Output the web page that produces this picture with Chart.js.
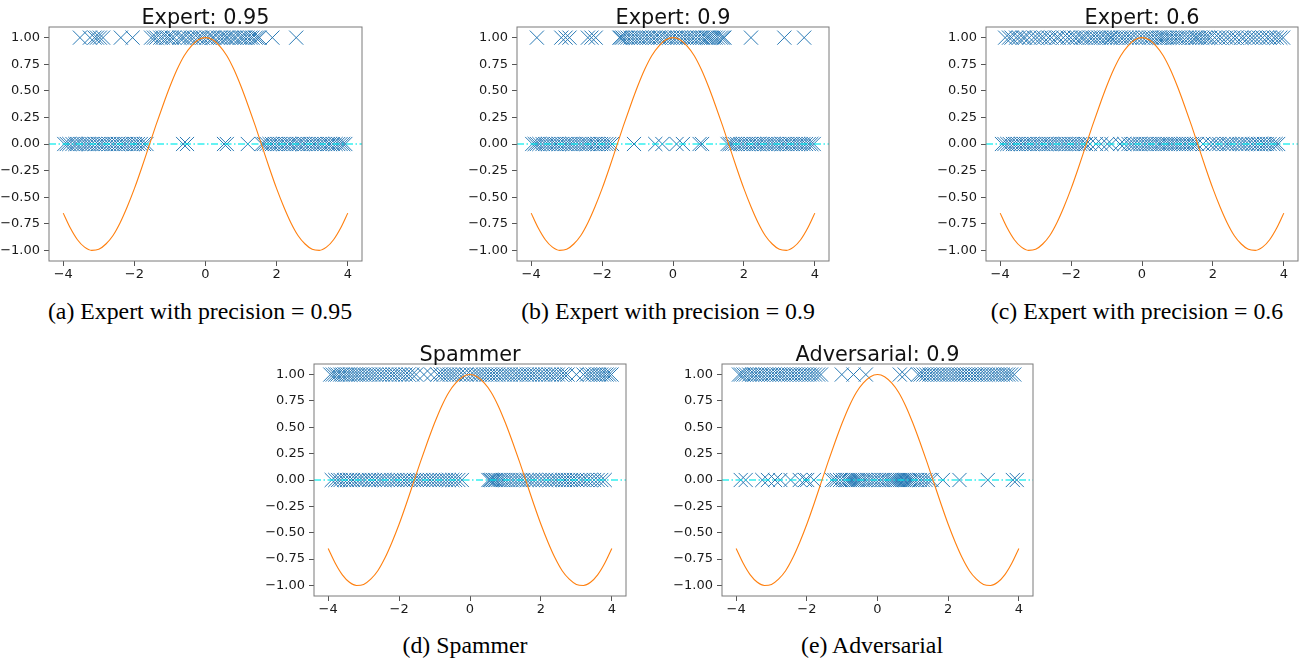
<!DOCTYPE html>
<html>
<head>
<meta charset="utf-8">
<script src="https://cdn.jsdelivr.net/npm/chart.js@4.4.1/dist/chart.umd.min.js"></script>
<style>
  body { margin: 0; width: 1307px; height: 660px; background: #fff; position: relative; overflow: hidden; }
  .panel { position: absolute; }
  .cap { position: absolute; font-family: "Liberation Serif", "Times New Roman", serif; font-size: 23.8px;
         line-height: 24px; color: #000; white-space: nowrap; transform: translateX(-50%); }
</style>
</head>
<body>
<script>
// axis ticks / limits
const xTicks = [-4, -2, 0, 2, 4];
const yTicks = [-1, -0.75, -0.5, -0.25, 0, 0.25, 0.5, 0.75, 1];
const xLimits = [-4.4, 4.4];
const yLimits = [-1.1, 1.1];
const refLineY = 0;

// orange curve
const curveX = [-4, -3.8, -3.6, -3.4, -3.2, -3, -2.8, -2.6, -2.4, -2.2, -2, -1.8, -1.6, -1.4, -1.2, -1, -0.8, -0.6, -0.4, -0.2,
  0, 0.2, 0.4, 0.6, 0.8, 1, 1.2, 1.4, 1.6, 1.8, 2, 2.2, 2.4, 2.6, 2.8, 3, 3.2, 3.4, 3.6, 3.8, 4];
const curveY = [-0.65, -0.79, -0.9, -0.97, -1.0, -0.99, -0.94, -0.86, -0.74, -0.59, -0.42, -0.23, -0.03, 0.17, 0.36, 0.54, 0.7, 0.83, 0.92, 0.98,
  1.0, 0.98, 0.92, 0.83, 0.7, 0.54, 0.36, 0.17, -0.03, -0.23, -0.42, -0.59, -0.74, -0.86, -0.94, -0.99, -1.0, -0.97, -0.9, -0.79, -0.65];

// x positions of the crosses labelled 1 / 0
const expert95Ones = [-3.53, -3.25, -3.12, -3.05, -2.97, -2.88, -2.38, -2.05,
  -1.53, -1.45, -1.38, -1.27, -1.2, -1.1, -1.04, -0.95, -0.88, -0.74, -0.66, -0.6, -0.49, -0.41, -0.33, -0.22, -0.15, -0.08,
  0.03, 0.1, 0.19, 0.24, 0.35, 0.42, 0.5, 0.58, 0.63, 0.72, 0.8, 0.86, 0.97, 1.03, 1.1, 1.18, 1.26, 1.32, 1.41, 1.47, 1.52,
  1.88, 2.55];
const expert95Zeros = [-3.97, -3.9, -3.83, -3.74, -3.66, -3.6, -3.51, -3.43, -3.35, -3.28, -3.2, -3.11, -3.02, -2.95, -2.87,
  -2.8, -2.71, -2.62, -2.55, -2.46, -2.38, -2.3, -2.23, -2.14, -2.05, -1.98, -1.9, -1.82, -1.73, -1.66,
  -0.63, -0.52, 0.52, 0.6, 1.19,
  1.58, 1.64, 1.72, 1.8, 1.87, 1.95, 2.03, 2.1, 2.19, 2.26, 2.35, 2.41, 2.5, 2.58, 2.64, 2.73, 2.8, 2.89, 2.97, 3.05,
  3.12, 3.2, 3.27, 3.35, 3.44, 3.5, 3.58, 3.66, 3.73, 3.8, 3.87, 3.93];

const expert90Ones = [-3.84, -3.15, -3.03, -2.92, -2.4, -2.3, -2.18,
  -1.51, -1.47, -1.42, -1.35, -1.28, -1.2, -1.13, -1.05, -0.97, -0.9, -0.81, -0.73, -0.66, -0.57, -0.5, -0.41, -0.35, -0.25,
  -0.17, -0.1, -0.02, 0.07, 0.13, 0.22, 0.3, 0.38, 0.45, 0.53, 0.6, 0.69, 0.77, 0.84, 0.92, 0.97, 1.02, 1.08, 1.14, 1.2,
  1.27, 1.35, 1.41, 1.45,
  2.2, 3.14, 3.7];
const expert90Zeros = [-3.97, -3.9, -3.84, -3.77, -3.68, -3.6, -3.53, -3.45, -3.37, -3.3, -3.22, -3.14, -3.05, -2.98, -2.9,
  -2.83, -2.75, -2.66, -2.58, -2.5, -2.43, -2.36, -2.27, -2.2, -2.12, -2.03, -1.96, -1.88, -1.8, -1.72,
  -1.1, -0.5, -0.3, 0.1, 0.28, 0.75, 0.82,
  1.54, 1.6, 1.66, 1.74, 1.81, 1.9, 1.97, 2.05, 2.12, 2.2, 2.29, 2.36, 2.43, 2.52, 2.6, 2.67, 2.75, 2.83, 2.9, 2.98,
  3.07, 3.14, 3.21, 3.3, 3.37, 3.45, 3.53, 3.6, 3.68, 3.75, 3.83, 3.9, 3.97];

const expert60Ones = [-3.86, -3.75, -3.68, -3.55, -3.47, -3.36, -3.3, -3.18, -3.05, -2.96, -2.85, -2.77, -2.64, -2.55,
  -2.42, -2.35, -2.22, -2.1, -2.01, -1.9, -1.83, -1.72, -1.66, -1.58, -1.47, -1.4, -1.31, -1.22, -1.15, -1.05, -0.98,
  -0.9, -0.86, -0.78, -0.7, -0.6, -0.53, -0.44, -0.35, -0.28, -0.17, -0.08, 0.02, 0.11, 0.2, 0.27, 0.36, 0.44, 0.5,
  0.57, 0.63, 0.7, 0.77, 0.85, 0.92, 1.0, 1.07, 1.15, 1.25, 1.33, 1.42, 1.5, 1.55, 1.62, 1.7, 1.78, 1.86, 1.93, 2.05,
  2.16, 2.25, 2.37, 2.46, 2.58, 2.67, 2.8, 2.88, 3.0, 3.1, 3.19, 3.3, 3.4, 3.52, 3.6, 3.72, 3.8, 3.9, 3.98];
const expert60Zeros = [-3.95, -3.88, -3.8, -3.73, -3.64, -3.57, -3.5, -3.41, -3.33, -3.26, -3.18, -3.1, -3.03, -2.94,
  -2.86, -2.79, -2.7, -2.62, -2.55, -2.47, -2.38, -2.3, -2.22, -2.15, -2.06, -1.98, -1.9, -1.82, -1.74, -1.65, -1.58,
  -1.47, -1.3, -1.15, -0.98, -0.86, -0.62, -0.5, -0.38, -0.3, -0.22, -0.13, -0.05, 0.04, 0.12, 0.2, 0.27, 0.35, 0.44,
  0.51, 0.58, 0.66, 0.73, 0.8, 0.88, 0.95, 1.03, 1.1, 1.18, 1.25, 1.33, 1.41, 1.48, 1.55, 1.72, 1.9, 2.0, 2.1, 2.18,
  2.3, 2.4, 2.47, 2.55, 2.66, 2.75, 2.83, 2.92, 3.0, 3.1, 3.18, 3.27, 3.35, 3.44, 3.52, 3.6, 3.7, 3.77, 3.84];

const spammerOnes = [-3.94, -3.87, -3.8, -3.74, -3.66, -3.6, -3.52, -3.45, -3.38, -3.3, -3.22, -3.15, -3.07, -2.98, -2.9,
  -2.82, -2.73, -2.65, -2.55, -2.46, -2.37, -2.27, -2.18, -2.1, -2.0, -1.92, -1.82, -1.73, -1.63, -1.52, -1.3, -1.1,
  -0.92, -0.83, -0.74, -0.65, -0.57, -0.48, -0.4, -0.3, -0.2, -0.1, 0.02, 0.11, 0.2, 0.28, 0.37, 0.46, 0.55, 0.63,
  0.72, 0.8, 0.9, 0.98, 1.07, 1.15, 1.25, 1.33, 1.42, 1.5, 1.6, 1.68, 1.77, 1.85, 1.95, 2.04, 2.12, 2.22, 2.3, 2.4,
  2.48, 2.58, 2.67, 2.75, 3.0, 3.2, 3.3, 3.38, 3.46, 3.55, 3.63, 3.7, 3.78, 3.85, 3.92, 3.99];
const spammerZeros = [-3.9, -3.8, -3.72, -3.65, -3.55, -3.47, -3.38, -3.3, -3.2, -3.12, -3.03, -2.95, -2.85, -2.77, -2.68,
  -2.58, -2.5, -2.41, -2.32, -2.22, -2.13, -2.05, -1.95, -1.86, -1.77, -1.68, -1.58, -1.5, -1.4, -1.32, -1.22, -1.13,
  -1.04, -0.95, -0.86, -0.77, -0.68, -0.6, -0.5, -0.42, -0.33, -0.23,
  0.52, 0.56, 0.6, 0.65, 0.7, 0.74, 0.8, 0.86, 0.93, 1.0, 1.08, 1.17, 1.25, 1.34, 1.42, 1.5, 1.6, 1.68, 1.77, 1.85,
  1.96, 2.05, 2.15, 2.25, 2.33, 2.42, 2.5, 2.6, 2.68, 2.76, 2.85, 2.93, 3.02, 3.12, 3.2, 3.3, 3.4, 3.5, 3.6, 3.7, 3.8];

const adversarialOnes = [-3.92, -3.86, -3.79, -3.72, -3.63, -3.55, -3.48, -3.4, -3.32, -3.25, -3.16, -3.08, -3.0, -2.92,
  -2.83, -2.76, -2.68, -2.6, -2.51, -2.43, -2.35, -2.27, -2.18, -2.1, -2.02, -1.93, -1.85, -1.77, -1.68, -1.6,
  -1.01, -0.68, -0.33, 0.63, 0.77,
  1.15, 1.22, 1.3, 1.38, 1.47, 1.55, 1.63, 1.72, 1.8, 1.88, 1.97, 2.05, 2.14, 2.22, 2.3, 2.38, 2.46, 2.55, 2.63, 2.72,
  2.8, 2.88, 2.96, 3.05, 3.13, 3.22, 3.3, 3.38, 3.46, 3.55, 3.63, 3.7, 3.78, 3.87];
const adversarialZeros = [-3.87, -3.73, -3.26, -3.1, -2.9, -2.75, -2.46, -2.2, -2.05, -1.99, -1.8,
  -1.29, -1.22, -1.15, -1.06, -0.98, -0.9, -0.84, -0.78, -0.72, -0.66, -0.6, -0.55, -0.49, -0.42, -0.35, -0.28, -0.2,
  -0.12, -0.05, 0.04, 0.12, 0.2, 0.27, 0.34, 0.4, 0.46, 0.52, 0.58, 0.64, 0.7, 0.75, 0.8, 0.86, 0.92, 0.98, 1.05,
  1.12, 1.2, 1.28, 1.36, 1.45, 1.53,
  1.85, 2.32, 3.12, 3.83, 3.94];

const titles = ['Expert: 0.95', 'Expert: 0.9', 'Expert: 0.6', 'Spammer', 'Adversarial: 0.9'];
const captions = ['(a) Expert with precision = 0.95', '(b) Expert with precision = 0.9',
  '(c) Expert with precision = 0.6', '(d) Spammer', '(e) Adversarial'];
const onesSets = [expert95Ones, expert90Ones, expert60Ones, spammerOnes, adversarialOnes];
const zerosSets = [expert95Zeros, expert90Zeros, expert60Zeros, spammerZeros, adversarialZeros];

// page layout: plot-area boxes and caption anchors
const boxes = [
  { l: 49, r: 362, t: 27, b: 261, capX: 200, capY: 299 },
  { l: 517, r: 829, t: 27, b: 261, capX: 668, capY: 299 },
  { l: 986, r: 1298, t: 27, b: 261, capX: 1137, capY: 299 },
  { l: 314, r: 626, t: 364, b: 596, capX: 465, capY: 633 },
  { l: 722, r: 1033, t: 364, b: 596, capX: 872, capY: 633 }
];

const AX_W = 55, TOP = 30, RIGHT = 12, X_H = 26, BOTTOM = 4;

// frame around the plot area + title above it
const framePlugin = {
  id: 'frame',
  afterDraw(chart, args, opts) {
    const { ctx, chartArea: a } = chart;
    ctx.save();
    ctx.strokeStyle = '#7a7a7a';
    ctx.lineWidth = 1;
    ctx.strokeRect(a.left, a.top, a.right - a.left, a.bottom - a.top);
    ctx.fillStyle = '#111';
    ctx.font = '20.8px "DejaVu Sans"';
    ctx.textAlign = 'center';
    ctx.textBaseline = 'alphabetic';
    ctx.fillText(opts.text, (a.left + a.right) / 2, a.top - 3);
    ctx.restore();
  }
};

const minus = v => (v < 0 ? '\u2212' : '') + Math.abs(v);

boxes.forEach((box, i) => {
  const w = box.r - box.l + AX_W + RIGHT;
  const h = box.b - box.t + TOP + X_H + BOTTOM;
  const div = document.createElement('div');
  div.className = 'panel';
  div.style.left = (box.l - AX_W) + 'px';
  div.style.top = (box.t - TOP) + 'px';
  const canvas = document.createElement('canvas');
  canvas.width = w;
  canvas.height = h;
  div.appendChild(canvas);
  document.body.appendChild(div);

  const cap = document.createElement('div');
  cap.className = 'cap';
  cap.style.left = box.capX + 'px';
  cap.style.top = box.capY + 'px';
  cap.textContent = captions[i];
  document.body.appendChild(cap);

  const tickFont = { family: 'DejaVu Sans', size: 13 };
  new Chart(canvas.getContext('2d'), {
    type: 'scatter',
    data: {
      datasets: [
        {
          type: 'line',
          data: curveX.map((x, k) => ({ x, y: curveY[k] })),
          borderColor: '#ff7f0e',
          borderWidth: 1.1,
          pointRadius: 0,
          cubicInterpolationMode: 'monotone',
          order: 0
        },
        {
          type: 'line',
          data: [{ x: xLimits[0], y: refLineY }, { x: xLimits[1], y: refLineY }],
          borderColor: 'rgba(0, 235, 235, 0.6)',
          borderWidth: 2,
          borderDash: [7, 2.5, 1.5, 2.5],
          pointRadius: 0,
          order: 1
        },
        {
          data: onesSets[i].map(x => ({ x, y: 1 })).concat(zerosSets[i].map(x => ({ x, y: 0 }))),
          pointStyle: 'crossRot',
          pointRadius: 10,
          borderColor: '#2a7ab5',
          borderWidth: 1,
          order: 2
        }
      ]
    },
    options: {
      responsive: false,
      animation: false,
      events: [],
      layout: { padding: { top: TOP, right: RIGHT, bottom: BOTTOM, left: 0 } },
      plugins: { legend: { display: false }, tooltip: { enabled: false }, frame: { text: titles[i] } },
      scales: {
        x: {
          type: 'linear', min: xLimits[0], max: xLimits[1],
          afterBuildTicks: s => { s.ticks = xTicks.map(v => ({ value: v })); },
          afterFit: s => { s.height = X_H; },
          grid: { drawOnChartArea: false, drawTicks: true, tickLength: 5, tickColor: '#555' },
          border: { display: false },
          ticks: { font: tickFont, color: '#1a1a1a', padding: 1, maxRotation: 0, callback: v => minus(v) }
        },
        y: {
          type: 'linear', min: yLimits[0], max: yLimits[1],
          afterBuildTicks: s => { s.ticks = yTicks.map(v => ({ value: v })); },
          afterFit: s => { s.width = AX_W; },
          grid: { drawOnChartArea: false, drawTicks: true, tickLength: 5, tickColor: '#555' },
          border: { display: false },
          ticks: { font: tickFont, color: '#1a1a1a', padding: 4,
            callback: v => (v < 0 ? '\u2212' : '') + Math.abs(v).toFixed(2) }
        }
      }
    },
    plugins: [framePlugin]
  });
});
</script>
</body>
</html>
